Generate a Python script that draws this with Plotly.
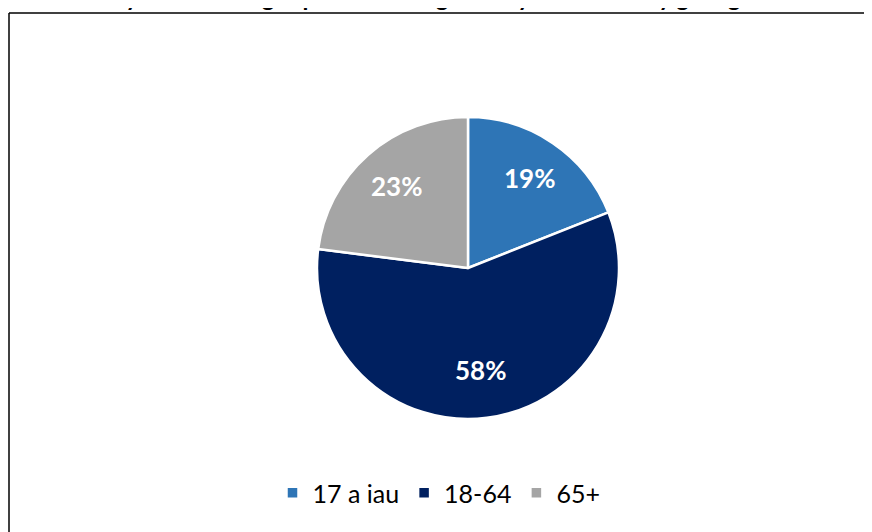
import math
import plotly.graph_objects as go

categories = ["17 a iau", "18-64", "65+"]
values = [19, 58, 23]
colors = ["#2E75B6", "#002060", "#A5A5A5"]
title_text = "Cyfansoddiad grŵp oedran unigolion sydd â nam ar y golwg"

W, H = 872, 532
# pie geometry in figure pixels
CX, CY, R = 460, 260, 151
label_r = [0.72, 0.68, 0.72]

fig = go.Figure(go.Pie(
    labels=categories,
    values=values,
    sort=False,
    direction="clockwise",
    rotation=0,
    marker=dict(colors=colors, line=dict(color="white", width=2.5)),
    textinfo="none",
    domain=dict(x=[(CX - R) / W, (CX + R) / W], y=[1 - (CY + R) / H, 1 - (CY - R) / H]),
    hoverinfo="label+percent",
))

# data labels placed along each slice's mid angle
total = sum(values)
annotations = []
cum = 0
for v, rf in zip(values, label_r):
    mid = (cum + v / 2) / total * 2 * math.pi
    cum += v
    dx = math.sin(mid) * R * rf
    dy = -math.cos(mid) * R * rf
    annotations.append(dict(
        text=f"<b>{v}%</b>", xref="paper", yref="paper",
        x=(CX + dx) / W, y=1 - (CY + dy) / H,
        xanchor="center", yanchor="middle", showarrow=False,
        font=dict(family="Lato", size=26, color="white"),
    ))

annotations.append(dict(
    text="<b>" + title_text + "</b>",
    xref="paper", yref="paper",
    x=735 / W, xanchor="right",
    y=1 + 12 / H, yanchor="middle",
    showarrow=False,
    font=dict(family="Lato", size=24, color="black"),
))

fig.update_layout(
    width=W,
    height=H,
    margin=dict(l=0, r=0, t=0, b=0),
    paper_bgcolor="white",
    plot_bgcolor="white",
    showlegend=True,
    legend=dict(
        orientation="h",
        x=431 / W,
        xanchor="center",
        y=1 - 485 / H,
        yanchor="middle",
        font=dict(family="Lato", size=25, color="#000000"),
    ),
    shapes=[
        dict(type="line", xref="paper", yref="paper",
             x0=1 / W, x1=1.05, y0=1 - 5 / H, y1=1 - 5 / H,
             line=dict(color="black", width=1.5)),
        dict(type="line", xref="paper", yref="paper",
             x0=1 / W, x1=1 / W, y0=-0.05, y1=1 - 5 / H,
             line=dict(color="black", width=1.5)),
    ],
    annotations=annotations,
)

fig.write_html("out.html")
